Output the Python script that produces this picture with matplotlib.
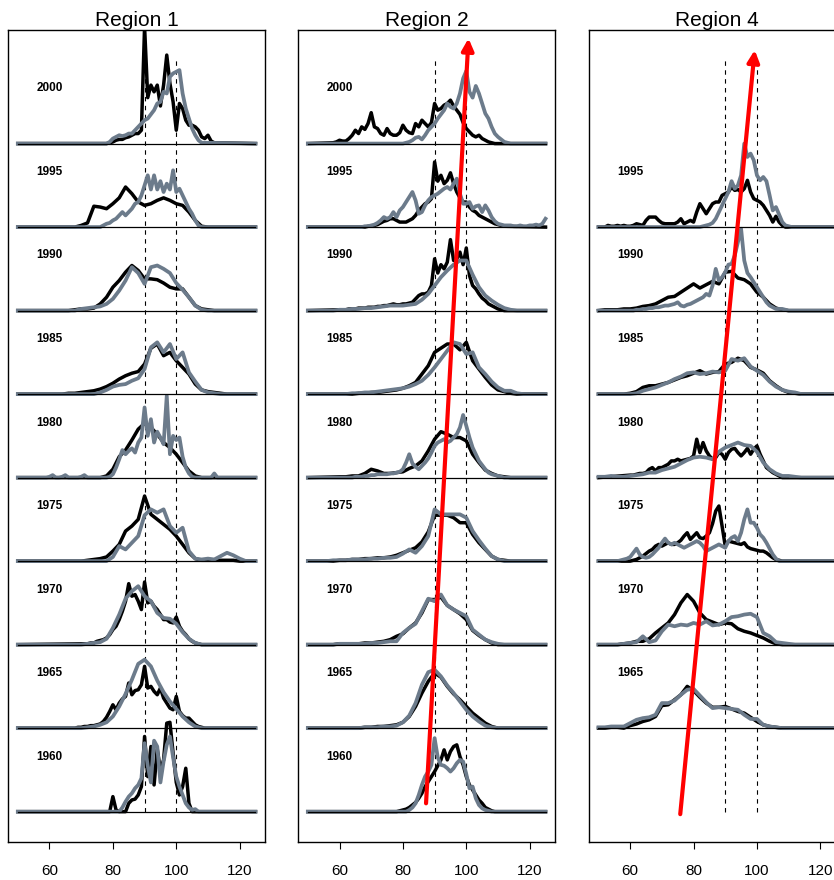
import numpy as np
import matplotlib
matplotlib.use("Agg")
from matplotlib import pyplot as plt

plt.rcParams['font.family'] = ['Liberation Sans', 'DejaVu Sans']

GRAY = '#6C7B8B'

# each curve: (first x, x step, heights above its baseline)
r1_black = {
    2000: (78, 1, [0.0, 0.01, 0.02, 0.04, 0.05, 0.05, 0.07, 0.08, 0.10, 0.12, 0.12, 0.16, 1.4, 0.55, 0.7, 0.62, 0.7,
                   0.45, 0.7, 1.06, 0.72, 0.5, 0.16, 0.48, 0.42, 0.28, 0.22, 0.22, 0.2, 0.16, 0.08, 0.06, 0.1, 0.03, 0.01]),
    1995: (68, 2, [0.0, 0.02, 0.05, 0.25, 0.24, 0.22, 0.28, 0.35, 0.48, 0.4, 0.3, 0.26, 0.28, 0.32, 0.35, 0.32, 0.28,
                   0.26, 0.18, 0.08, 0.01, 0.0]),
    1990: (66, 2, [0.0, 0.01, 0.02, 0.02, 0.03, 0.08, 0.16, 0.28, 0.36, 0.46, 0.54, 0.48, 0.38, 0.38, 0.37, 0.33, 0.28,
                   0.26, 0.26, 0.16, 0.06, 0.02, 0.01, 0.0]),
    1985: (64, 2, [0.0, 0.01, 0.01, 0.02, 0.03, 0.04, 0.06, 0.09, 0.13, 0.18, 0.22, 0.25, 0.27, 0.36, 0.55, 0.6, 0.46,
                   0.5, 0.4, 0.32, 0.24, 0.12, 0.05, 0.03, 0.02, 0.01, 0.0]),
    1980: (76, 2, [0.0, 0.02, 0.1, 0.25, 0.33, 0.45, 0.58, 0.65, 0.6, 0.52, 0.42, 0.36, 0.28, 0.18, 0.08, 0.02, 0.0]),
    1975: (70, 2, [0.0, 0.01, 0.02, 0.03, 0.05, 0.12, 0.2, 0.36, 0.42, 0.5, 0.78, 0.56, 0.5, 0.44, 0.38, 0.3, 0.2,
                   0.1, 0.03, 0.01, 0.01, 0.01, 0.01, 0.01, 0.01, 0.0]),
    1970: (70, 1, [0.01, 0.01, 0.01, 0.02, 0.02, 0.04, 0.05, 0.06, 0.08, 0.12, 0.18, 0.22, 0.3, 0.4, 0.52, 0.73, 0.58,
                   0.6, 0.52, 0.42, 0.75, 0.5, 0.52, 0.46, 0.42, 0.36, 0.3, 0.3, 0.27, 0.26, 0.33, 0.22, 0.16, 0.12,
                   0.07, 0.04, 0.02, 0.01, 0.0]),
    1965: (68, 1, [0.0, 0.01, 0.01, 0.02, 0.02, 0.03, 0.03, 0.04, 0.05, 0.08, 0.13, 0.2, 0.28, 0.22, 0.3, 0.35, 0.38,
                   0.54, 0.4, 0.45, 0.46, 0.52, 0.74, 0.48, 0.5, 0.44, 0.4, 0.48, 0.36, 0.3, 0.24, 0.22, 0.38, 0.2,
                   0.15, 0.12, 0.12, 0.08, 0.04, 0.02, 0.01, 0.0]),
    1960: (78, 1, [0.0, 0.0, 0.18, 0.02, 0.0, 0.0, 0.0, 0.1, 0.14, 0.15, 0.2, 0.3, 0.9, 0.42, 0.78, 0.32, 0.75, 0.5,
                   0.62, 1.06, 1.07, 0.7, 0.35, 0.2, 0.3, 0.52, 0.1, 0.0]),
}
r1_gray = {
    2000: (78, 1, [0.0, 0.02, 0.06, 0.08, 0.1, 0.09, 0.1, 0.12, 0.12, 0.16, 0.2, 0.24, 0.28, 0.3, 0.35, 0.4, 0.48,
                   0.5, 0.62, 0.6, 0.8, 0.84, 0.86, 0.88, 0.6, 0.42, 0.3, 0.18, 0.1, 0.04, 0.01]),
    1995: (76, 1, [0.0, 0.02, 0.04, 0.05, 0.08, 0.1, 0.14, 0.18, 0.14, 0.18, 0.22, 0.28, 0.3, 0.38, 0.5, 0.62, 0.45,
                   0.62, 0.45, 0.55, 0.42, 0.52, 0.45, 0.68, 0.42, 0.46, 0.38, 0.3, 0.22, 0.16, 0.08, 0.02, 0.0]),
    1990: (68, 2, [0.0, 0.02, 0.03, 0.04, 0.05, 0.08, 0.14, 0.24, 0.36, 0.52, 0.45, 0.32, 0.52, 0.54, 0.5, 0.45, 0.33,
                   0.25, 0.16, 0.06, 0.01, 0.0]),
    1985: (74, 2, [0.0, 0.02, 0.05, 0.09, 0.11, 0.12, 0.16, 0.19, 0.3, 0.56, 0.62, 0.5, 0.6, 0.42, 0.5, 0.26, 0.15,
                   0.05, 0.02, 0.01, 0.0]),
    1980: (59, 1, [0.0, 0.01, 0.03, 0.0, 0.0, 0.01, 0.03, 0.0, 0.0, 0.0, 0.0, 0.01, 0.03, 0.0, 0.0, 0.0, 0.0, 0.0,
                   0.0, 0.0, 0.01, 0.04, 0.12, 0.22, 0.33, 0.28, 0.32, 0.35, 0.3, 0.42, 0.48, 0.84, 0.5, 0.7, 0.42,
                   0.55, 0.48, 0.4, 0.98, 0.28, 0.5, 0.45, 0.48, 0.25, 0.12, 0.05, 0.01, 0.0, 0.0, 0.0, 0.0, 0.0,
                   0.0, 0.05, 0.0]),
    1975: (78, 2, [0.0, 0.05, 0.18, 0.14, 0.22, 0.3, 0.55, 0.62, 0.58, 0.62, 0.42, 0.34, 0.4, 0.12, 0.03, 0.02, 0.03,
                   0.02, 0.06, 0.1, 0.07, 0.03, 0.0]),
    1970: (70, 2, [0.0, 0.01, 0.02, 0.03, 0.07, 0.2, 0.36, 0.55, 0.64, 0.7, 0.58, 0.52, 0.38, 0.32, 0.31, 0.25, 0.15,
                   0.07, 0.02, 0.0]),
    1965: (70, 2, [0.0, 0.01, 0.02, 0.04, 0.07, 0.14, 0.26, 0.41, 0.58, 0.77, 0.82, 0.74, 0.57, 0.43, 0.32, 0.23,
                   0.14, 0.07, 0.02, 0.0]),
    1960: (82, 1, [0.0, 0.05, 0.12, 0.18, 0.22, 0.28, 0.32, 0.4, 0.82, 0.55, 0.35, 0.85, 0.78, 0.35, 0.6, 0.8, 0.9,
                   0.65, 0.42, 0.3, 0.2, 0.1, 0.05, 0.02, 0.03, 0.0]),
}

r2_black = {
    2000: (58, 1, [0.01, 0.02, 0.04, 0.03, 0.03, 0.06, 0.1, 0.16, 0.12, 0.2, 0.17, 0.24, 0.37, 0.2, 0.18, 0.12, 0.1,
                   0.18, 0.12, 0.1, 0.1, 0.13, 0.22, 0.16, 0.13, 0.12, 0.24, 0.2, 0.28, 0.24, 0.2, 0.25, 0.48, 0.4,
                   0.42, 0.46, 0.48, 0.52, 0.45, 0.4, 0.35, 0.25, 0.18, 0.14, 0.1, 0.08, 0.1, 0.06, 0.04, 0.02, 0.01,
                   0.0]),
    1995: (68, 1, [0.0, 0.01, 0.01, 0.02, 0.03, 0.05, 0.07, 0.08, 0.1, 0.1, 0.08, 0.06, 0.06, 0.06, 0.08, 0.1, 0.14,
                   0.2, 0.24, 0.28, 0.3, 0.34, 0.78, 0.55, 0.62, 0.52, 0.56, 0.65, 0.52, 0.42, 0.35, 0.3, 0.3, 0.24,
                   0.2, 0.18, 0.14, 0.12, 0.1, 0.08, 0.06, 0.04, 0.03, 0.02, 0.01]),
    1990: (60, 1, [0.01, 0.01, 0.01, 0.02, 0.02, 0.02, 0.03, 0.03, 0.03, 0.04, 0.04, 0.04, 0.05, 0.05, 0.06, 0.06,
                   0.07, 0.08, 0.07, 0.07, 0.08, 0.08, 0.09, 0.1, 0.14, 0.18, 0.2, 0.2, 0.22, 0.3, 0.62, 0.45, 0.55,
                   0.5, 0.58, 0.85, 0.6, 0.62, 0.7, 0.55, 0.75, 0.42, 0.3, 0.26, 0.2, 0.15, 0.12, 0.08, 0.06, 0.04,
                   0.02, 0.01, 0.0]),
    1985: (64, 2, [0.0, 0.01, 0.01, 0.02, 0.02, 0.03, 0.04, 0.05, 0.07, 0.1, 0.14, 0.24, 0.34, 0.5, 0.55, 0.6, 0.6,
                   0.53, 0.62, 0.4, 0.3, 0.2, 0.11, 0.05, 0.03, 0.01, 0.0]),
    1980: (60, 2, [0.01, 0.01, 0.02, 0.02, 0.05, 0.1, 0.08, 0.05, 0.05, 0.06, 0.07, 0.11, 0.14, 0.2, 0.32, 0.46, 0.55,
                   0.52, 0.48, 0.48, 0.44, 0.28, 0.18, 0.09, 0.05, 0.02, 0.01, 0.0]),
    1975: (56, 2, [0.0, 0.0, 0.01, 0.01, 0.02, 0.02, 0.03, 0.03, 0.04, 0.04, 0.05, 0.07, 0.1, 0.13, 0.16, 0.23, 0.35,
                   0.55, 0.55, 0.55, 0.52, 0.46, 0.46, 0.32, 0.22, 0.14, 0.06, 0.02, 0.01, 0.0]),
    1970: (58, 2, [0.0, 0.01, 0.01, 0.01, 0.01, 0.02, 0.02, 0.03, 0.04, 0.06, 0.1, 0.13, 0.2, 0.26, 0.38, 0.54, 0.54,
                   0.57, 0.47, 0.42, 0.37, 0.3, 0.17, 0.11, 0.06, 0.02, 0.0]),
    1965: (66, 2, [0.0, 0.01, 0.01, 0.02, 0.02, 0.03, 0.04, 0.07, 0.14, 0.26, 0.42, 0.56, 0.66, 0.61, 0.5, 0.41, 0.34,
                   0.26, 0.18, 0.12, 0.06, 0.02, 0.0]),
    1960: (78, 1, [0.0, 0.01, 0.02, 0.03, 0.05, 0.08, 0.11, 0.16, 0.22, 0.3, 0.36, 0.42, 0.48, 0.55, 0.62, 0.74, 0.62,
                   0.72, 0.78, 0.8, 0.66, 0.56, 0.42, 0.32, 0.26, 0.2, 0.14, 0.1, 0.05, 0.03, 0.01, 0.0]),
}
r2_gray = {
    2000: (80, 1, [0.0, 0.01, 0.02, 0.04, 0.07, 0.08, 0.05, 0.1, 0.16, 0.2, 0.24, 0.3, 0.35, 0.4, 0.48, 0.44, 0.42,
                   0.48, 0.6, 0.78, 0.87, 0.62, 0.55, 0.69, 0.6, 0.48, 0.36, 0.3, 0.2, 0.12, 0.08, 0.05, 0.02, 0.01,
                   0.0]),
    1995: (66, 1, [0.0, 0.0, 0.01, 0.01, 0.02, 0.03, 0.05, 0.08, 0.12, 0.1, 0.12, 0.18, 0.12, 0.2, 0.24, 0.3, 0.36,
                   0.42, 0.32, 0.16, 0.18, 0.26, 0.32, 0.36, 0.38, 0.4, 0.43, 0.46, 0.48, 0.45, 0.52, 0.58, 0.4, 0.28,
                   0.28, 0.3, 0.22, 0.25, 0.26, 0.18, 0.26, 0.2, 0.12, 0.07, 0.04, 0.03, 0.02, 0.02, 0.02, 0.01, 0.01,
                   0.02, 0.01, 0.01, 0.02, 0.02, 0.03, 0.02, 0.04, 0.1]),
    1990: (56, 2, [0.0, 0.0, 0.01, 0.01, 0.02, 0.02, 0.03, 0.03, 0.04, 0.05, 0.06, 0.06, 0.06, 0.07, 0.08, 0.13, 0.2,
                   0.3, 0.4, 0.48, 0.55, 0.6, 0.6, 0.43, 0.28, 0.18, 0.12, 0.07, 0.03, 0.01, 0.0]),
    1985: (62, 2, [0.0, 0.01, 0.01, 0.02, 0.02, 0.03, 0.04, 0.05, 0.06, 0.07, 0.09, 0.12, 0.16, 0.23, 0.32, 0.42,
                   0.52, 0.62, 0.6, 0.48, 0.5, 0.32, 0.24, 0.15, 0.08, 0.04, 0.04, 0.01, 0.0]),
    1980: (64, 1, [0.0, 0.01, 0.01, 0.01, 0.02, 0.02, 0.03, 0.03, 0.04, 0.04, 0.04, 0.04, 0.05, 0.05, 0.06, 0.07, 0.1,
                   0.18, 0.28, 0.17, 0.13, 0.1, 0.14, 0.18, 0.23, 0.3, 0.38, 0.42, 0.44, 0.46, 0.42, 0.44, 0.48, 0.52,
                   0.6, 0.75, 0.62, 0.48, 0.36, 0.28, 0.2, 0.15, 0.1, 0.06, 0.04, 0.03, 0.02, 0.01, 0.0]),
    1975: (56, 2, [0.0, 0.01, 0.01, 0.01, 0.02, 0.02, 0.02, 0.03, 0.03, 0.04, 0.04, 0.05, 0.09, 0.14, 0.1, 0.18, 0.3,
                   0.62, 0.56, 0.56, 0.56, 0.56, 0.52, 0.36, 0.25, 0.15, 0.06, 0.02, 0.0]),
    1970: (58, 2, [0.0, 0.01, 0.01, 0.01, 0.01, 0.01, 0.02, 0.02, 0.03, 0.04, 0.04, 0.14, 0.2, 0.25, 0.4, 0.55, 0.52,
                   0.6, 0.47, 0.42, 0.38, 0.34, 0.18, 0.12, 0.06, 0.03, 0.01, 0.0]),
    1965: (66, 2, [0.0, 0.01, 0.01, 0.01, 0.02, 0.02, 0.03, 0.07, 0.15, 0.3, 0.52, 0.67, 0.7, 0.62, 0.51, 0.42, 0.32,
                   0.22, 0.14, 0.08, 0.03, 0.01, 0.0]),
    1960: (80, 1, [0.0, 0.0, 0.02, 0.05, 0.1, 0.2, 0.32, 0.42, 0.48, 0.56, 0.88, 0.65, 0.56, 0.55, 0.52, 0.48, 0.52,
                   0.58, 0.62, 0.6, 0.45, 0.28, 0.3, 0.16, 0.08, 0.04, 0.02, 0.01, 0.0]),
}

r4_black = {
    1995: (52, 1, [0.0, 0.02, 0.01, 0.01, 0.02, 0.01, 0.02, 0.01, 0.01, 0.02, 0.04, 0.03, 0.02, 0.08, 0.12, 0.12, 0.12,
                   0.08, 0.05, 0.04, 0.04, 0.04, 0.04, 0.06, 0.1, 0.04, 0.06, 0.08, 0.06, 0.18, 0.28, 0.22, 0.16, 0.22,
                   0.28, 0.3, 0.3, 0.38, 0.4, 0.42, 0.48, 0.44, 0.45, 0.42, 0.46, 0.56, 0.42, 0.34, 0.32, 0.3, 0.26,
                   0.2, 0.14, 0.06, 0.13, 0.06, 0.02, 0.0]),
    1990: (50, 2, [0.0, 0.01, 0.01, 0.01, 0.02, 0.02, 0.03, 0.05, 0.06, 0.08, 0.12, 0.16, 0.17, 0.22, 0.27, 0.32, 0.27,
                   0.31, 0.35, 0.32, 0.46, 0.47, 0.39, 0.37, 0.32, 0.22, 0.16, 0.08, 0.03, 0.01, 0.0]),
    1985: (56, 2, [0.0, 0.0, 0.01, 0.03, 0.08, 0.1, 0.1, 0.12, 0.14, 0.17, 0.2, 0.22, 0.25, 0.28, 0.24, 0.26, 0.27,
                   0.36, 0.38, 0.43, 0.4, 0.32, 0.29, 0.25, 0.16, 0.1, 0.05, 0.02, 0.01, 0.0]),
    1980: (60, 1, [0.03, 0.03, 0.04, 0.05, 0.05, 0.06, 0.1, 0.12, 0.08, 0.12, 0.12, 0.14, 0.16, 0.2, 0.2, 0.22, 0.2,
                   0.21, 0.22, 0.23, 0.26, 0.46, 0.3, 0.42, 0.32, 0.26, 0.22, 0.24, 0.3, 0.28, 0.22, 0.3, 0.34, 0.35,
                   0.3, 0.26, 0.3, 0.35, 0.28, 0.34, 0.38, 0.28, 0.2, 0.12, 0.09, 0.06, 0.04, 0.02, 0.0]),
    1975: (60, 1, [0.0, 0.01, 0.02, 0.04, 0.06, 0.09, 0.12, 0.14, 0.18, 0.2, 0.18, 0.2, 0.22, 0.2, 0.2, 0.22, 0.25,
                   0.3, 0.34, 0.26, 0.3, 0.34, 0.28, 0.27, 0.3, 0.34, 0.45, 0.6, 0.66, 0.42, 0.18, 0.24, 0.23, 0.22,
                   0.21, 0.2, 0.22, 0.17, 0.15, 0.14, 0.13, 0.12, 0.12, 0.1, 0.07, 0.04, 0.02, 0.01, 0.0]),
    1970: (56, 2, [0.0, 0.01, 0.02, 0.04, 0.04, 0.07, 0.14, 0.2, 0.26, 0.36, 0.5, 0.6, 0.52, 0.38, 0.3, 0.27, 0.24,
                   0.26, 0.25, 0.19, 0.16, 0.14, 0.11, 0.08, 0.04, 0.01, 0.0]),
    1965: (52, 2, [0.0, 0.01, 0.01, 0.0, 0.03, 0.05, 0.08, 0.1, 0.14, 0.27, 0.28, 0.34, 0.4, 0.5, 0.45, 0.37, 0.3,
                   0.25, 0.25, 0.26, 0.23, 0.2, 0.18, 0.13, 0.08, 0.04, 0.02, 0.01, 0.0]),
}
r4_gray = {
    1995: (82, 1, [0.0, 0.01, 0.02, 0.03, 0.05, 0.1, 0.18, 0.26, 0.34, 0.42, 0.55, 0.46, 0.5, 0.62, 1.0, 0.84, 0.88,
                   0.8, 0.62, 0.56, 0.6, 0.55, 0.38, 0.2, 0.24, 0.15, 0.06, 0.02, 0.01, 0.0]),
    1990: (60, 1, [0.0, 0.0, 0.01, 0.01, 0.02, 0.02, 0.03, 0.03, 0.04, 0.04, 0.05, 0.06, 0.06, 0.07, 0.08, 0.1, 0.06,
                   0.05, 0.07, 0.08, 0.1, 0.12, 0.14, 0.16, 0.2, 0.18, 0.3, 0.5, 0.36, 0.4, 0.46, 0.55, 0.56, 0.66,
                   0.82, 0.98, 0.6, 0.45, 0.4, 0.34, 0.28, 0.22, 0.16, 0.1, 0.06, 0.04, 0.02, 0.02, 0.02, 0.01, 0.0]),
    1985: (58, 2, [0.0, 0.0, 0.01, 0.04, 0.06, 0.08, 0.11, 0.14, 0.18, 0.21, 0.25, 0.26, 0.24, 0.25, 0.27, 0.26, 0.28,
                   0.42, 0.4, 0.43, 0.33, 0.28, 0.23, 0.15, 0.09, 0.05, 0.03, 0.02, 0.0]),
    1980: (50, 2, [0.01, 0.01, 0.02, 0.01, 0.01, 0.02, 0.03, 0.04, 0.06, 0.06, 0.09, 0.11, 0.13, 0.17, 0.21, 0.24,
                   0.25, 0.24, 0.22, 0.31, 0.36, 0.39, 0.42, 0.39, 0.38, 0.31, 0.18, 0.1, 0.05, 0.02, 0.02, 0.01, 0.0]),
    1975: (56, 1, [0.0, 0.01, 0.02, 0.03, 0.05, 0.1, 0.15, 0.08, 0.05, 0.04, 0.05, 0.08, 0.12, 0.16, 0.22, 0.27, 0.22,
                   0.2, 0.22, 0.2, 0.18, 0.16, 0.18, 0.2, 0.22, 0.24, 0.22, 0.18, 0.12, 0.14, 0.16, 0.18, 0.2, 0.18,
                   0.16, 0.24, 0.28, 0.3, 0.24, 0.34, 0.5, 0.62, 0.46, 0.46, 0.4, 0.32, 0.28, 0.22, 0.15, 0.08, 0.03,
                   0.0]),
    1970: (56, 2, [0.0, 0.01, 0.02, 0.03, 0.1, 0.03, 0.05, 0.16, 0.24, 0.22, 0.24, 0.23, 0.26, 0.24, 0.28, 0.23, 0.24,
                   0.28, 0.33, 0.34, 0.36, 0.37, 0.33, 0.14, 0.1, 0.03, 0.02, 0.01, 0.0]),
    1965: (50, 2, [0.01, 0.01, 0.02, 0.02, 0.02, 0.06, 0.1, 0.12, 0.13, 0.16, 0.3, 0.3, 0.33, 0.4, 0.46, 0.47, 0.39,
                   0.31, 0.24, 0.25, 0.24, 0.23, 0.22, 0.16, 0.11, 0.11, 0.04, 0.02, 0.01, 0.0]),
}

titles = ["Region 1", "Region 2", "Region 4"]
ref_lines = [90, 100]
# trend arrows (start x, start y, tip x, tip y); none in region 1
arrows = [None, (87.3, 0.1, 100.7, 9.26), (75.8, -0.03, 99.3, 9.12)]

panels = [(r1_black, r1_gray), (r2_black, r2_gray), (r4_black, r4_gray)]


def ridge(spec):
    x0, step, vals = spec
    x = x0 + step * np.arange(len(vals))
    y = np.array(vals, dtype=float)
    if x[0] > 50:
        x = np.r_[50, x]
        y = np.r_[0.0, y]
    if x[-1] < 125:
        x = np.r_[x, 125]
        y = np.r_[y, 0.0]
    return x, y


fig = plt.figure(figsize=(8.34, 8.8), dpi=100)
lefts = [0.00995, 0.3577, 0.7062]

for i in range(3):
    ax = fig.add_axes([lefts[i], 0.0435, 0.3078, 0.9224])
    blk, gry = panels[i]
    for v in ref_lines:
        ax.plot([v, v], [0, 9], color='black', lw=0.8, ls=(0, (4, 4)), zorder=1)
    for yr in blk:
        off = (yr - 1960) / 5
        x, y = ridge(blk[yr])
        ax.plot(x, y + off, color='black', lw=2.5, zorder=2)
        x, y = ridge(gry[yr])
        ax.plot(x, y + off, color=GRAY, lw=2.7, zorder=3)
        ax.plot([50, 125], [off, off], color='black', lw=0.9, zorder=4)
        ax.text(60, off + 0.66, str(yr), ha='center', va='center', fontsize=8.5, fontweight='bold')
    if arrows[i] is not None:
        sx, sy, tx, ty = arrows[i]
        ax.annotate('', xy=(tx, ty), xytext=(sx, sy), zorder=6,
                    arrowprops=dict(arrowstyle='-|>,head_length=0.7,head_width=0.35', color='red', lw=3,
                                    shrinkA=0, shrinkB=0))
    ax.set_xlim(47, 128)
    ax.set_ylim(-0.36, 9.36)
    ax.set_xticks([60, 80, 100, 120])
    ax.set_yticks([])
    ax.tick_params(axis='x', direction='out', length=5.2, width=0.8, labelsize=11, pad=11)
    for s in ax.spines.values():
        s.set_linewidth(1.0)
    ax.set_title(titles[i], fontsize=15, pad=2.5)

fig.savefig('out.png', dpi=100)
